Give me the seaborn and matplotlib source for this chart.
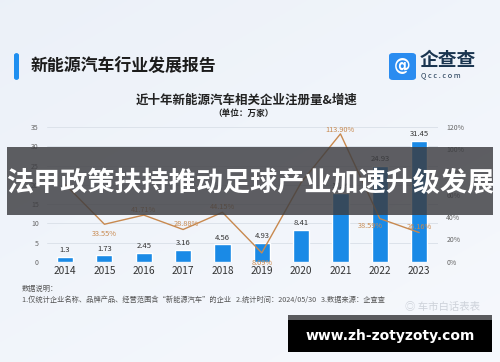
import numpy as np
import matplotlib
matplotlib.use("Agg")
import matplotlib.pyplot as plt
from matplotlib.patches import FancyBboxPatch, Rectangle
import seaborn as sns
import pandas as pd

sns.set_theme(style="white")
plt.rcParams['font.family'] = ['Noto Sans CJK SC', 'DejaVu Sans']

years = ["2014", "2015", "2016", "2017", "2018", "2019", "2020", "2021", "2022", "2023"]
registrations = [1.3, 1.73, 2.45, 3.16, 4.56, 4.93, 8.41, 17.99, 24.93, 31.45]
growth = [69.0, 33.55, 41.71, 28.88, 44.15, 8.09, 70.59, 113.90, 38.59, 26.16]
# labels for 2014 and 2020 are hidden under the banner in the reference
growth_labels = ["", "33.55%", "41.71%", "28.88%", "44.15%", "8.09%", "", "113.90%", "38.59%", "26.16%"]
left_ticks = [0, 5, 10, 15, 20, 25, 30, 35]
right_ticks = [0, 20, 40, 60, 80, 100, 120]

# label offsets (points) for growth labels: (dx, dy)
g_off = [(0, 6), (0, -7), (0, 4), (2, 4), (0, 4), (0, -7), (0, 5), (0, 3), (-7, -5), (0, 4)]

W, H = 500, 362
fig = plt.figure(figsize=(5, 3.62), dpi=100)

# background gradient
bg = fig.add_axes([0, 0, 1, 1], zorder=-10)
gx = np.linspace(0, 1, 200)[None, :]
gy = np.linspace(0, 1, 150)[:, None]
base = np.array([0.925, 0.945, 0.975])
light = np.array([0.975, 0.982, 0.995])
t = np.clip(0.35 * gx + 0.45 * gy, 0, 1)[..., None]
img = base * (1 - t) + light * t
bg.imshow(img, aspect='auto', extent=[0, 1, 0, 1], origin='upper')
bg.set_xlim(0, 1); bg.set_ylim(0, 1); bg.axis('off')

def fx(x): return x / W
def fy(y): return 1 - y / H

# header
fig.patches.append(FancyBboxPatch((fx(14), fy(80)), 5 / W, 27 / H, boxstyle="round,pad=0,rounding_size=0.006",
                                  transform=fig.transFigure, facecolor="#1f8ff0", edgecolor="none"))
fig.text(fx(31), fy(66), "新能源汽车行业发展报告", fontsize=12.2, fontweight='bold', color="#1c1c1c", va='center')
# logo
fig.patches.append(FancyBboxPatch((fx(389), fy(80)), 27 / W, 27 / H, boxstyle="round,pad=0,rounding_size=0.008",
                                  transform=fig.transFigure, facecolor="#2a8cf0", edgecolor="none"))
fig.text(fx(402.5), fy(66.5), "@", fontsize=12, fontweight='bold', color="white", ha='center', va='center',
         family=['DejaVu Sans'])
fig.text(fx(420), fy(60), "企查查", fontsize=13.5, color="#1a3550", va='center', fontweight='bold')
fig.text(fx(421), fy(75), "Q c c . c o m", fontsize=5.3, color="#1a3550", va='center')

# chart titles
fig.text(0.5 - 0.006, fy(100), "近十年新能源汽车相关企业注册量&增速", fontsize=9, fontweight='bold', color="#222222",
         ha='center', va='center')
fig.text(fx(244), fy(113), "（单位：万家）", fontsize=6.2, fontweight='bold', color="#222222", ha='center', va='center')

# main axes
ax = fig.add_axes([fx(47), fy(262), (438 - 47) / W, (262 - 127) / H])
ax.patch.set_alpha(0)
df = pd.DataFrame({"year": years, "reg": registrations, "growth": growth})
sns.barplot(data=df, x="year", y="reg", ax=ax, color="#1a8ae6", saturation=1, width=0.41, zorder=3)
ax.set_xlim(-0.46, 9.48)
ax.set_ylim(0, 35)
ax.set_yticks(left_ticks)
ax.set_yticklabels([str(v) for v in left_ticks], fontsize=5, color="#666666")
ax.tick_params(axis='y', length=0, pad=6)
ax.tick_params(axis='x', length=0, pad=3, labelsize=7.3, labelcolor="#333333")
ax.set_xlabel(""); ax.set_ylabel("")
for v in left_ticks:
    ax.axhline(v, color="#dce2ea", lw=0.7, zorder=0)
for s in ax.spines.values():
    s.set_visible(False)
for i, v in enumerate(registrations):
    ax.annotate(f"{v:g}", (i, v), xytext=(0, 2), textcoords='offset points', ha='center', va='bottom',
                fontsize=5.5, color="#333333", zorder=5)

ax2 = ax.twinx()
sns.lineplot(x=np.arange(len(years)), y=growth, ax=ax2, color="#c8894f", lw=1.0, zorder=4)
ax2.set_ylim(0, 120)
ax2.set_yticks(right_ticks)
ax2.set_yticklabels([f"{v}%" for v in right_ticks], fontsize=5, color="#666666")
ax2.tick_params(axis='y', length=0, pad=6)
for s in ax2.spines.values():
    s.set_visible(False)
for i, (v, lab) in enumerate(zip(growth, growth_labels)):
    if not lab:
        continue
    dx, dy = g_off[i]
    ax2.annotate(lab, (i, v), xytext=(dx, dy), textcoords='offset points', ha='center', va='center',
                 fontsize=5.3, color="#c8894f", zorder=5)

# notes
fig.text(fx(22), fy(289), "数据说明：", fontsize=5.2, color="#555555", va='center')
fig.text(fx(22), fy(300), "1.仅统计企业名称、品牌产品、经营范围含“新能源汽车”的企业   2.统计时间：2024/05/30   3.数据来源：企查查",
         fontsize=5.2, color="#555555", va='center')
fig.text(fx(405), fy(307), "◎ 车市白话表表", fontsize=7.5, color="#c9ced6", va='center', alpha=0.9)

# banner overlay
fig.patches.append(Rectangle((fx(7), fy(215)), (493 - 7) / W, (215 - 147) / H, transform=fig.transFigure,
                             facecolor="#3c3c40", edgecolor="none", alpha=0.82, zorder=20))
fig.text(0.5, fy(183), "法甲政策扶持推动足球产业加速升级发展", fontsize=19.5, fontweight='bold', color="white",
         ha='center', va='center', zorder=21)

# bottom url box
fig.patches.append(Rectangle((fx(288), fy(320)), (492 - 288) / W, 5 / H, transform=fig.transFigure,
                             facecolor="#5a5b5e", edgecolor="none", zorder=20))
fig.patches.append(Rectangle((fx(288), fy(352)), (492 - 288) / W, 32 / H, transform=fig.transFigure,
                             facecolor="black", edgecolor="none", zorder=20))
fig.text(fx(390), fy(336), "www.zh-zotyzoty.com", fontsize=10, fontweight='bold', color="white",
         ha='center', va='center', zorder=21, family=['DejaVu Sans'])

fig.savefig("out.png", dpi=100)
